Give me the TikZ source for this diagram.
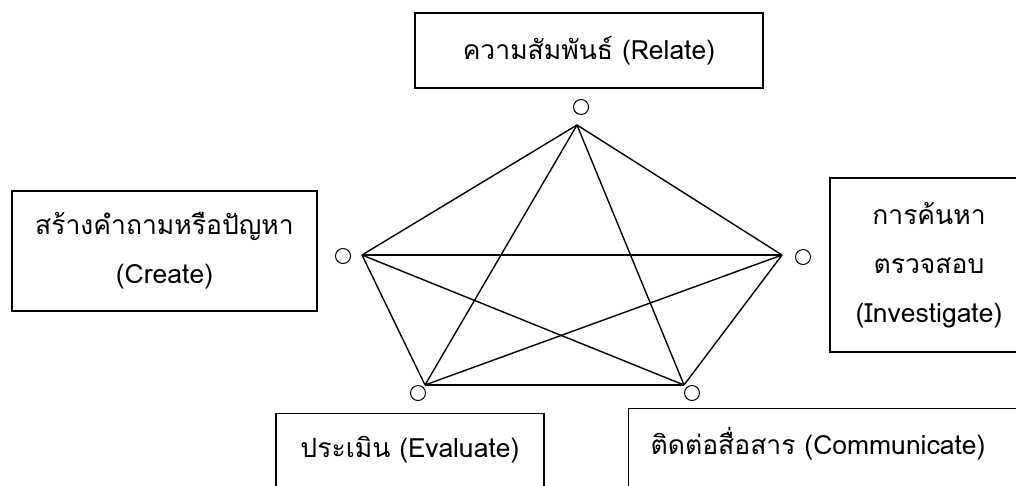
\documentclass[tikz,border=0pt]{standalone}
\usepackage{fontspec}
\newfontfamily\thaifont[Script=Thai]{Loma}
\begin{document}
\begin{tikzpicture}[x=1pt,y=-1pt,
  box/.style={draw, line width=1.4pt, inner sep=0pt, font=\thaifont\fontsize{26.5}{49}\selectfont},
  dot/.style={draw, circle, line width=1pt, minimum size=15pt, inner sep=0pt},
  edge/.style={line width=1.4pt}]
\useasboundingbox (0,0) rectangle (1016,485);
\clip (0,0) rectangle (1016,485);
% boxes
\node[box, minimum width=348, minimum height=75] (relate) at (589,50.5) {ความสัมพันธ์ (Relate)};
\node[box, minimum width=305, minimum height=120, align=center] (create) at (164.5,251) {สร้างคำถามหรือปัญหา\\(Create)};
\node[box, minimum width=198, minimum height=174, align=center] (invest) at (929,265) {การค้นหา\\ตรวจสอบ\\(Investigate)};
\node[box, minimum width=268, text height=44pt, text depth=100pt, anchor=north] (eval) at (410,413) {ประเมิน (Evaluate)};
\node[box, minimum width=420, inner xsep=22pt, text width=376pt, align=left, text height=46pt, text depth=100pt, anchor=north west] (comm) at (628,408) {ติดต่อสื่อสาร (Communicate)};
% circles
\node[dot] (c1) at (581,107) {};
\node[dot] (c2) at (343,256) {};
\node[dot] (c3) at (803,257) {};
\node[dot] (c4) at (418,393) {};
\node[dot] (c5) at (692,393) {};
% vertices
\coordinate (vt) at (577,125);
\coordinate (vl) at (362,255);
\coordinate (vr) at (782,255);
\coordinate (vbl) at (425,385);
\coordinate (vbr) at (684,385);
% edges (complete graph)
\draw[edge] (vt) -- (vl);
\draw[edge] (vt) -- (vr);
\draw[edge] (vt) -- (vbl);
\draw[edge] (vt) -- (vbr);
\draw[edge] (vl) -- (vr);
\draw[edge] (vl) -- (vbl);
\draw[edge] (vl) -- (vbr);
\draw[edge] (vr) -- (vbl);
\draw[edge] (vr) -- (vbr);
\draw[edge] (vbl) -- (vbr);
\end{tikzpicture}
\end{document}
